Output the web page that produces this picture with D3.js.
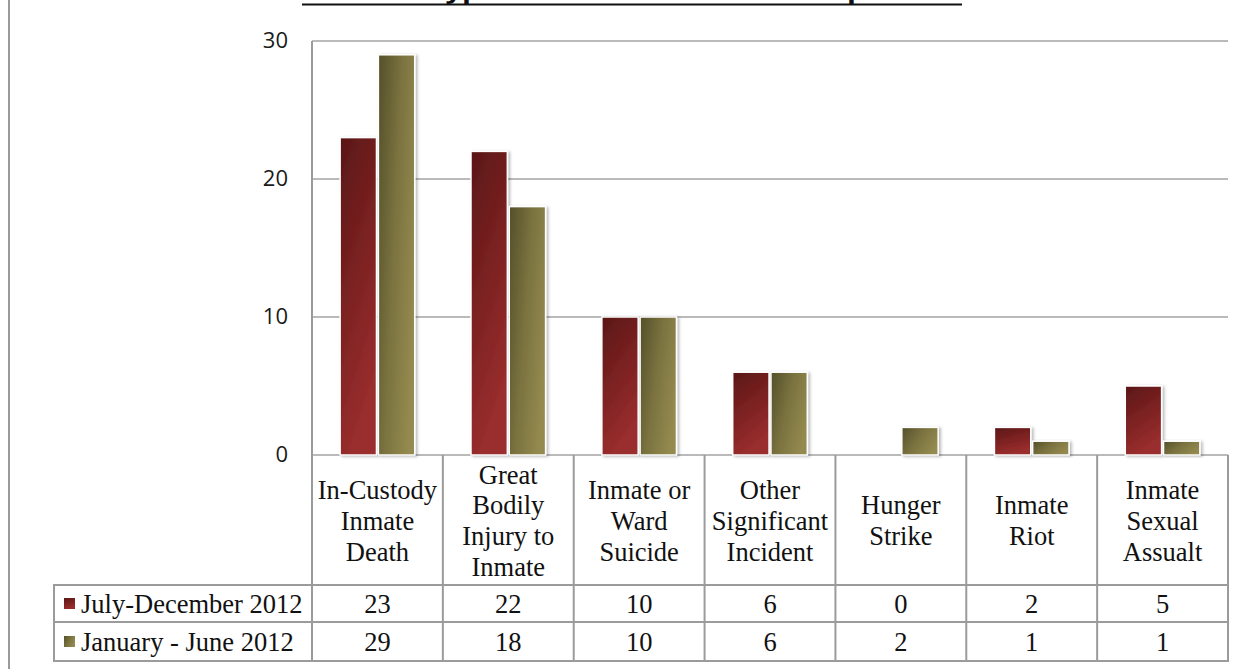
<!DOCTYPE html>
<html>
<head>
<meta charset="utf-8">
<script src="https://cdn.jsdelivr.net/npm/d3@7"></script>
<style>
  html, body { margin: 0; padding: 0; background: #fff; }
  svg { display: block; }
</style>
</head>
<body>
<svg id="chart" width="1246" height="669"></svg>
<script>
// Incident categories (header labels are broken into lines as in the data table)
const categories = [
  "In-Custody Inmate Death",
  "Great Bodily Injury to Inmate",
  "Inmate or Ward Suicide",
  "Other Significant Incident",
  "Hunger Strike",
  "Inmate Riot",
  "Inmate Sexual Assault"
];
const categoryLines = [
  ["In-Custody", "Inmate", "Death"],
  ["Great", "Bodily", "Injury to", "Inmate"],
  ["Inmate or", "Ward", "Suicide"],
  ["Other", "Significant", "Incident"],
  ["Hunger", "Strike"],
  ["Inmate", "Riot"],
  ["Inmate", "Sexual", "Assualt"]
];
const seriesNames = ["July-December 2012", "January - June 2012"];
const julDec2012 = [23, 22, 10, 6, 0, 2, 5];
const janJun2012 = [29, 18, 10, 6, 2, 1, 1];
const yTicks = [0, 10, 20, 30];
const titleText = "Chart 1: Type of Critical Incident Comparison";

const seriesValues = [julDec2012, janJun2012];

const svg = d3.select("#chart");
const W = 1246, H = 669;

const plot = { left: 312, right: 1228, top: 41, bottom: 455 };
const table = { legendLeft: 54, headerBottom: 585, row1Bottom: 622, row2Bottom: 661 };

// Gradients for the two series
const defs = svg.append("defs");
const redGrad = defs.append("linearGradient").attr("id", "gRed")
  .attr("x1", "0").attr("y1", "0").attr("x2", "0.35").attr("y2", "1");
redGrad.append("stop").attr("offset", "0").attr("stop-color", "#5a1717");
redGrad.append("stop").attr("offset", "0.55").attr("stop-color", "#7e2222");
redGrad.append("stop").attr("offset", "1").attr("stop-color", "#9a2e2e");
const oliveGrad = defs.append("linearGradient").attr("id", "gOlive")
  .attr("x1", "0").attr("y1", "0.1").attr("x2", "1").attr("y2", "0.6");
oliveGrad.append("stop").attr("offset", "0").attr("stop-color", "#57522b");
oliveGrad.append("stop").attr("offset", "0.5").attr("stop-color", "#7b7340");
oliveGrad.append("stop").attr("offset", "1").attr("stop-color", "#948a4f");
const fills = ["url(#gRed)", "url(#gOlive)"];

const shadow = defs.append("filter").attr("id", "shadow")
  .attr("x", "-20%").attr("y", "-10%").attr("width", "150%").attr("height", "130%");
shadow.append("feDropShadow").attr("dx", 2).attr("dy", 1).attr("stdDeviation", 1.6)
  .attr("flood-color", "#000").attr("flood-opacity", 0.28);

// Outer frame line on the left
svg.append("line").attr("x1", 9).attr("x2", 9).attr("y1", 0).attr("y2", H)
  .attr("stroke", "#9a9a9a").attr("stroke-width", 2);

// Title (sits mostly above the top edge, only its underline fully shows)
svg.append("text")
  .attr("x", 632).attr("y", -2)
  .attr("text-anchor", "middle")
  .attr("font-family", "'Open Sans', 'Liberation Sans', sans-serif")
  .attr("font-weight", "bold").attr("font-size", 24)
  .attr("textLength", 650).attr("lengthAdjust", "spacingAndGlyphs")
  .attr("fill", "#111")
  .text(titleText);
svg.append("line").attr("x1", 302).attr("x2", 962).attr("y1", 4.5).attr("y2", 4.5)
  .attr("stroke", "#111").attr("stroke-width", 2.2);

// Scales
const x0 = d3.scaleBand().domain(categories).range([plot.left, plot.right]).padding(0);
const bw = x0.bandwidth();
const x1 = d3.scaleBand().domain(seriesNames)
  .range([bw * 0.215, bw * 0.785]).paddingInner(0.05).paddingOuter(0);
const y = d3.scaleLinear().domain([0, 30]).range([plot.bottom, plot.top]);

// Gridlines
svg.append("g").selectAll("line").data(yTicks).join("line")
  .attr("x1", plot.left).attr("x2", plot.right)
  .attr("y1", d => y(d)).attr("y2", d => y(d))
  .attr("stroke", "#a3a3a3").attr("stroke-width", 1.6);

// Y axis labels
const yAxis = d3.axisLeft(y).tickValues(yTicks).tickSize(0).tickPadding(0);
const yg = svg.append("g").attr("transform", `translate(${plot.left - 24},0)`).call(yAxis);
yg.select(".domain").remove();
yg.selectAll("text")
  .attr("font-family", "'Open Sans', 'Liberation Sans', sans-serif")
  .attr("font-size", 22).attr("fill", "#1a1a1a").attr("dy", "0.28em");

// Bars
const groups = svg.append("g").selectAll("g").data(categories).join("g")
  .attr("transform", d => `translate(${x0(d)},0)`);
groups.selectAll("rect")
  .data((d, i) => seriesNames.map((s, j) => ({ s, j, v: seriesValues[j][i] })).filter(e => e.v > 0))
  .join("rect")
  .attr("x", e => x1(e.s))
  .attr("width", x1.bandwidth())
  .attr("y", e => y(e.v))
  .attr("height", e => y(0) - y(e.v))
  .attr("fill", e => fills[e.j])
  .attr("stroke", "#ffffff").attr("stroke-width", 1.5)
  .attr("filter", "url(#shadow)");

// Data table grid
const gridColor = "#9b9b9b";
const tg = svg.append("g").attr("stroke", gridColor).attr("stroke-width", 2).attr("fill", "none");
const colEdges = categories.map(c => x0(c)).concat([plot.right]);
colEdges.forEach(xv => {
  tg.append("line").attr("x1", xv).attr("x2", xv).attr("y1", plot.bottom).attr("y2", table.row2Bottom);
});
tg.append("line").attr("x1", plot.left).attr("x2", plot.left).attr("y1", plot.top).attr("y2", plot.bottom);
[table.headerBottom, table.row1Bottom, table.row2Bottom].forEach(yv => {
  tg.append("line").attr("x1", table.legendLeft - 1).attr("x2", plot.right + 1).attr("y1", yv).attr("y2", yv);
});
tg.append("line").attr("x1", table.legendLeft).attr("x2", table.legendLeft)
  .attr("y1", table.headerBottom).attr("y2", table.row2Bottom);

// Header labels
const serif = "'Liberation Serif', 'DejaVu Serif', serif";
const fs = 26.5;
const lineH = 30.8;
const headerMid = (plot.bottom + table.headerBottom) / 2 + 1;
categories.forEach((c, i) => {
  const lines = categoryLines[i];
  const t = svg.append("text")
    .attr("font-family", serif).attr("font-size", fs).attr("fill", "#111")
    .attr("text-anchor", "middle");
  const cx = x0(c) + bw / 2;
  const y0 = headerMid - (lines.length - 1) * lineH / 2;
  lines.forEach((ln, k) => {
    t.append("tspan").attr("x", cx).attr("y", y0 + k * lineH).attr("dy", "0.33em").text(ln);
  });
});

// Value rows
const rowMids = [(table.headerBottom + table.row1Bottom) / 2, (table.row1Bottom + table.row2Bottom) / 2];
seriesNames.forEach((s, j) => {
  svg.append("g").selectAll("text").data(seriesValues[j]).join("text")
    .attr("x", (d, i) => x0(categories[i]) + bw / 2)
    .attr("y", rowMids[j]).attr("dy", "0.34em")
    .attr("text-anchor", "middle")
    .attr("font-family", serif).attr("font-size", fs).attr("fill", "#111")
    .text(d => d);
  // Legend key and label
  svg.append("rect")
    .attr("x", 64).attr("y", rowMids[j] - 5.5)
    .attr("width", 11).attr("height", 11)
    .attr("fill", fills[j]);
  svg.append("text")
    .attr("x", 81).attr("y", rowMids[j]).attr("dy", "0.34em")
    .attr("font-family", serif).attr("font-size", fs).attr("fill", "#111")
    .text(s);
});
</script>
</body>
</html>
